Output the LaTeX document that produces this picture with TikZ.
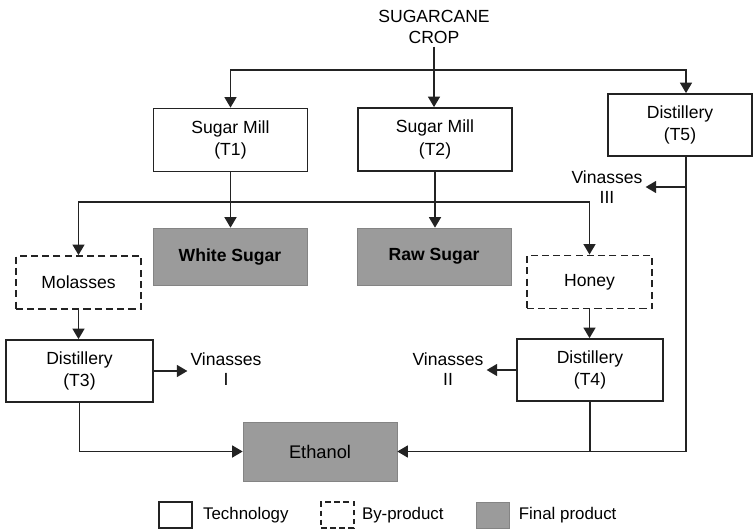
\documentclass[tikz,border=0pt]{standalone}
\usepackage{fontspec}
\setmainfont{Liberation Sans}
\usepackage{tikz}
\usetikzlibrary{positioning, calc, arrows.meta}
\definecolor{lineBlack}{RGB}{35, 35, 35}
\definecolor{prodGray}{RGB}{155, 155, 155}
\tikzset{
  techbox/.style={rectangle, draw=lineBlack, fill=white, line width=1.2pt,
                  minimum width=3.85cm, minimum height=1.575cm,
                  align=center, font=\fontsize{12.5}{16}\selectfont},
  bybox/.style={rectangle, draw=lineBlack, fill=white, line width=1.3pt,
                dash pattern=on 5pt off 3pt,
                minimum width=3.125cm, minimum height=1.325cm,
                align=center, font=\fontsize{12.5}{16}\selectfont},
  finalbox/.style={rectangle, draw=prodGray!85!black, fill=prodGray, line width=0.4pt,
                   minimum width=3.85cm, minimum height=1.425cm,
                   align=center, font=\fontsize{12.5}{16}\selectfont\bfseries},
  lbl/.style={align=center, inner sep=2pt, font=\fontsize{12.5}{14.5}\selectfont},
  legbox/.style={rectangle, minimum width=0.825cm, minimum height=0.65cm, inner sep=0pt},
  legtext/.style={inner sep=2pt, font=\fontsize{12}{14}\selectfont},
}

\begin{document}
\begin{tikzpicture}[
    x=0.025cm, y=-0.025cm,
    >={Triangle[length=7.5pt, width=8.5pt]},
  ]
    \useasboundingbox (0,0) rectangle (754,530);

    % Top: crop and mills
    \node[lbl] (crop) at (434,27) {SUGARCANE\\CROP};

    \node[techbox] (M1) at (230.5,140) {Sugar Mill\\(T1)};

    \node[techbox] (M2) at (435,139.5) {Sugar Mill\\(T2)};

    \node[techbox, minimum width=3.6cm, minimum height=1.55cm] (D5) at (680,125) {Distillery\\(T5)};

    % Products and by-products
    \node[finalbox] (S1) at (230,256.5) {White Sugar};

    \node[finalbox] (S2) at (434,256.5) {Raw Sugar};

    \node[bybox] (B1) at (78.5,282.5) {Molasses};

    \node[bybox] (B2) at (589.5,282) {Honey};

    \node[techbox, minimum width=3.675cm, minimum height=1.55cm] (D3) at (79.5,371) {Distillery\\(T3)};

    \node[techbox, minimum width=3.65cm, minimum height=1.55cm] (D4) at (590,370) {Distillery\\(T4)};

    \node[finalbox, font=\fontsize{13}{16}\selectfont, minimum height=1.475cm] (E) at (320,451.5) {Ethanol};

    \node[lbl] (V1) at (226,369) {Vinasses\\I};

    \node[lbl] (V2) at (448,369) {Vinasses\\II};

    \node[lbl] (V3) at (607,187) {Vinasses\\III};

    % Connections
    \coordinate (J0) at (434,70);
    \coordinate (J1) at (231,202);
    \coordinate (R) at ([xshift=0.15cm]D5.south);

    \draw[->, line width=1.2pt, lineBlack] (crop.south) -- (crop.south |- M2.north);
    \draw[->, line width=1.2pt, lineBlack] (J0) -| (M1.north);
    \draw[->, line width=1.2pt, lineBlack] (J0) -| ([xshift=0.15cm]D5.north);

    \draw[->, line width=1.2pt, lineBlack] (M1.south) -- (M1.south |- S1.north);
    \draw[->, line width=1.2pt, lineBlack] (M2.south) -- (M2.south |- S2.north);

    \draw[->, line width=1.2pt, lineBlack] (J1) -| (B1.north);
    \draw[->, line width=1.2pt, lineBlack] (J1) -| (B2.north);

    \draw[->, line width=1.2pt, lineBlack] (B1.south) -- (B1.south |- D3.north);
    \draw[->, line width=1.2pt, lineBlack] (B2.south) -- (B2.south |- D4.north);

    \draw[->, line width=1.2pt, lineBlack] (D3.east) -- (D3.east -| V1.west);
    \draw[->, line width=1.2pt, lineBlack] (D4.west) -- (D4.west -| V2.east);
    \draw[->, line width=1.2pt, lineBlack] (R |- V3.east) -- (V3.east);

    \draw[->, line width=1.2pt, lineBlack] (D3.south) |- (E.west);
    \draw[->, line width=1.2pt, lineBlack] (R) |- (E.east);
    \draw[line width=1.2pt, lineBlack] (D4.south) -- (D4.south |- E.east);

    % Legend
    \node[legbox, draw=lineBlack, line width=1.2pt] (L1) at (175.5,515) {};
    \node[legtext, right=0.18cm of L1] (L1t) {Technology};

    \node[legbox, draw=lineBlack, line width=1.3pt, dash pattern=on 4pt off 2.5pt] (L2) at (337.5,515) {};
    \node[legtext, right=0.1cm of L2] (L2t) {By-product};

    \node[legbox, fill=prodGray, draw=prodGray!85!black, line width=0.4pt] (L3) at (493,515) {};
    \node[legtext, right=0.15cm of L3] (L3t) {Final product};
  \end{tikzpicture}
\end{document}
